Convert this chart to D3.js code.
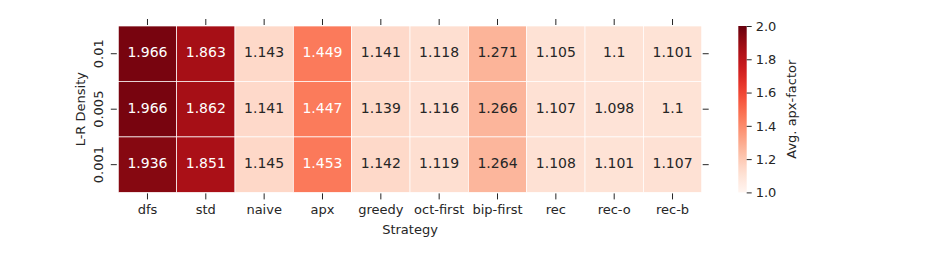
<!DOCTYPE html>
<html>
<head>
<meta charset="utf-8">
<script src="https://cdn.jsdelivr.net/npm/d3@7"></script>
<style>
  body { margin: 0; background: #fff; }
  text { font-family: "DejaVu Sans", sans-serif; }
</style>
</head>
<body>
<svg id="vis" width="942" height="257"></svg>
<script>
// strategies along x, densities along y
var strategies = ['dfs', 'std', 'naive', 'apx', 'greedy', 'oct-first', 'bip-first', 'rec', 'rec-o', 'rec-b'];
var densities = ['0.01', '0.005', '0.001'];
var values001 = [1.966, 1.863, 1.143, 1.449, 1.141, 1.118, 1.271, 1.105, 1.1, 1.101];
var values0005 = [1.966, 1.862, 1.141, 1.447, 1.139, 1.116, 1.266, 1.107, 1.098, 1.1];
var values0001 = [1.936, 1.851, 1.145, 1.453, 1.142, 1.119, 1.264, 1.108, 1.101, 1.107];
var colorTicks = [1.0, 1.2, 1.4, 1.6, 1.8, 2.0];

var rows = [values001, values0005, values0001];
var cells = [];
rows.forEach(function (vals, r) {
    vals.forEach(function (v, c) {
        cells.push({ row: densities[r], col: strategies[c], value: v });
    });
});

var svg = d3.select('#vis');
// note: 'top' is a read-only global in browsers, so use other names
var plotLeft = 118.3, plotRight = 701.7, plotTop = 26, plotBottom = 192.4;
var tickCol = '#262626';
var fontSize = 13;
var cellFont = 14;

var x = d3.scaleBand().domain(strategies).range([plotLeft, plotRight]);
var y = d3.scaleBand().domain(densities).range([plotTop, plotBottom]);
var color = d3.scaleSequential(d3.interpolateReds).domain([1, 2]);

// dark or light text based on cell luminance (like seaborn)
function textColor(v) {
    var c = d3.rgb(color(v));
    var lin = [c.r, c.g, c.b].map(function (u) {
        u = u / 255;
        return u <= 0.03928 ? u / 12.92 : Math.pow((u + 0.055) / 1.055, 2.4);
    });
    var lum = 0.2126 * lin[0] + 0.7152 * lin[1] + 0.0722 * lin[2];
    return lum > 0.408 ? tickCol : '#ffffff';
}

svg.selectAll('rect.cell')
    .data(cells)
    .enter().append('rect')
    .attr('class', 'cell')
    .attr('x', function (d) { return x(d.col); })
    .attr('y', function (d) { return y(d.row); })
    .attr('width', x.bandwidth())
    .attr('height', y.bandwidth())
    .attr('fill', function (d) { return color(d.value); })
    .attr('stroke', '#ffffff')
    .attr('stroke-width', 0.7);

svg.selectAll('text.val')
    .data(cells)
    .enter().append('text')
    .attr('class', 'val')
    .attr('x', function (d) { return x(d.col) + x.bandwidth() / 2; })
    .attr('y', function (d) { return y(d.row) + y.bandwidth() / 2; })
    .attr('dy', '0.25em')
    .attr('text-anchor', 'middle')
    .attr('font-size', cellFont)
    .attr('fill', function (d) { return textColor(d.value); })
    .text(function (d) { return String(d.value); });

// axes on all four sides, no domain lines
function styleAxis(g) {
    g.select('.domain').remove();
    g.selectAll('.tick line').attr('stroke', tickCol).attr('stroke-width', 1);
    g.selectAll('.tick text').attr('fill', tickCol).attr('font-size', fontSize)
        .attr('font-family', '"DejaVu Sans", sans-serif');
}

svg.append('g')
    .attr('transform', 'translate(0,' + (plotTop - 1) + ')')
    .call(d3.axisTop(x).tickSize(6).tickFormat(''))
    .call(styleAxis);

svg.append('g')
    .attr('transform', 'translate(0,' + (plotBottom + 1) + ')')
    .call(d3.axisBottom(x).tickSize(6).tickPadding(5))
    .call(styleAxis);

var yLeft = svg.append('g')
    .attr('transform', 'translate(' + (plotLeft - 1.5) + ',0)')
    .call(d3.axisLeft(y).tickSize(6).tickPadding(5))
    .call(styleAxis);
yLeft.selectAll('.tick text')
    .attr('text-anchor', 'middle')
    .attr('x', 0).attr('dy', 0)
    .attr('transform', 'translate(-18,0) rotate(-90)')
    .attr('dominant-baseline', 'central');

svg.append('g')
    .attr('transform', 'translate(' + (plotRight + 1) + ',0)')
    .call(d3.axisRight(y).tickSize(6).tickFormat(''))
    .call(styleAxis);

svg.append('text')
    .attr('x', (plotLeft + plotRight) / 2)
    .attr('y', 234)
    .attr('text-anchor', 'middle')
    .attr('font-size', fontSize)
    .attr('fill', tickCol)
    .text('Strategy');

svg.append('text')
    .attr('transform', 'translate(85,' + ((plotTop + plotBottom) / 2) + ') rotate(-90)')
    .attr('text-anchor', 'middle')
    .attr('font-size', fontSize)
    .attr('fill', tickCol)
    .text('L-R Density');

// colorbar
var cbLeft = 738.3, cbWidth = 8.4;
var cy = d3.scaleLinear().domain([1, 2]).range([plotBottom, plotTop]);
var defs = svg.append('defs');
var grad = defs.append('linearGradient')
    .attr('id', 'cbgrad')
    .attr('x1', 0).attr('y1', 1).attr('x2', 0).attr('y2', 0);
d3.range(0, 1.0001, 0.05).forEach(function (t) {
    grad.append('stop')
        .attr('offset', t)
        .attr('stop-color', color(1 + t));
});
svg.append('rect')
    .attr('x', cbLeft)
    .attr('y', plotTop)
    .attr('width', cbWidth)
    .attr('height', plotBottom - plotTop)
    .attr('fill', 'url(#cbgrad)');

svg.append('g')
    .attr('transform', 'translate(' + (cbLeft + cbWidth) + ',0)')
    .call(d3.axisRight(cy).tickValues(colorTicks).tickSize(5).tickPadding(4).tickFormat(d3.format('.1f')))
    .call(styleAxis);

svg.append('text')
    .attr('transform', 'translate(796,' + ((plotTop + plotBottom) / 2) + ') rotate(-90)')
    .attr('text-anchor', 'middle')
    .attr('font-size', fontSize)
    .attr('fill', tickCol)
    .text('Avg. apx-factor');
</script>
</body>
</html>
